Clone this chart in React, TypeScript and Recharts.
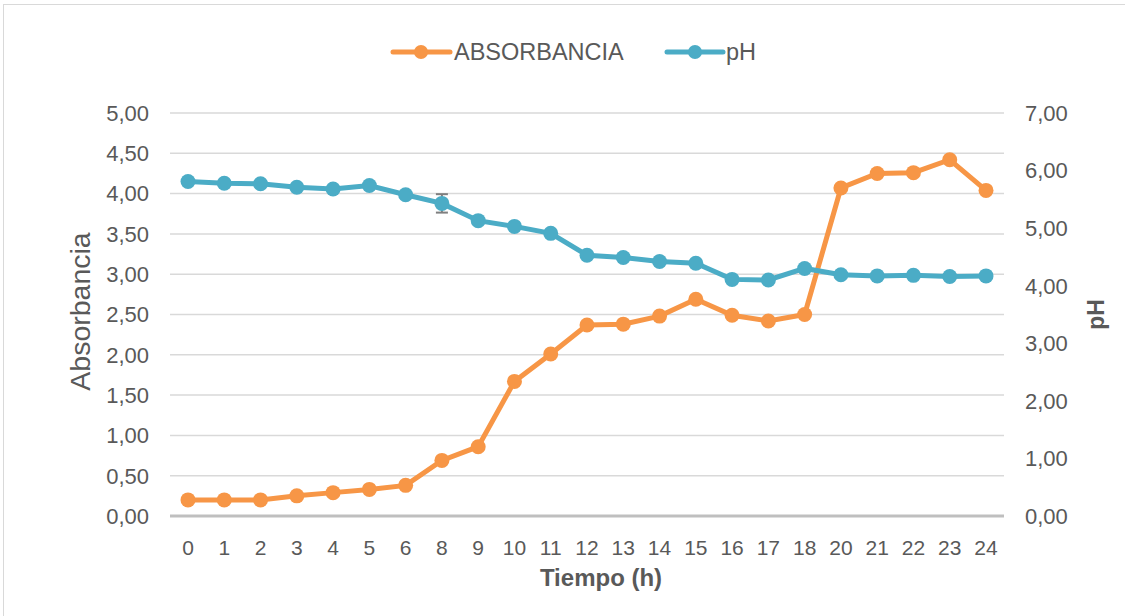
import React from 'react';
import { ComposedChart, Line, XAxis, YAxis, CartesianGrid, Legend, ErrorBar, Label } from 'recharts';

if (typeof document !== 'undefined') {
  document.body.style.margin = '0';
}

const categories = ['0', '1', '2', '3', '4', '5', '6', '8', '9', '10', '11', '12', '13', '14', '15', '16', '17', '18', '20', '21', '22', '23', '24'];
const absorbancia = [0.2, 0.2, 0.2, 0.25, 0.29, 0.33, 0.38, 0.69, 0.86, 1.67, 2.01, 2.37, 2.38, 2.48, 2.69, 2.49, 2.42, 2.5, 4.07, 4.25, 4.26, 4.42, 4.04];
const ph = [5.81, 5.78, 5.77, 5.71, 5.68, 5.74, 5.58, 5.43, 5.13, 5.03, 4.91, 4.53, 4.49, 4.42, 4.39, 4.11, 4.1, 4.3, 4.19, 4.17, 4.18, 4.16, 4.17];
const phError = [null, null, null, null, null, null, null, 0.16, null, null, null, null, null, null, null, null, null, null, null, null, null, null, null];
const leftTicks = [0, 0.5, 1, 1.5, 2, 2.5, 3, 3.5, 4, 4.5, 5];
const rightTicks = [0, 1, 2, 3, 4, 5, 6, 7];

const data = categories.map((t, i) => ({ t, abs: absorbancia[i], ph: ph[i], phErr: phError[i] }));

const ORANGE = '#F79646';
const BLUE = '#4BACC6';
const TEXT = '#595959';
const FONT = '"Liberation Sans", Arial, sans-serif';

const fmt = (v: number) => v.toFixed(2).replace('.', ',');

const LegendContent = () => (
  <svg width={1125} height={30} style={{ display: 'block' }}>
    <g>
      <line x1={393} x2={450} y1={15} y2={15} stroke={ORANGE} strokeWidth={5} strokeLinecap="round" />
      <circle cx={421} cy={15} r={7} fill={ORANGE} />
      <text x={454} y={15} dy="0.36em" fontSize={23.5} fill={TEXT} fontFamily={FONT}>ABSORBANCIA</text>
      <line x1={667} x2={723} y1={15} y2={15} stroke={BLUE} strokeWidth={5} strokeLinecap="round" />
      <circle cx={695} cy={15} r={7} fill={BLUE} />
      <text x={726} y={15} dy="0.36em" fontSize={23.5} fill={TEXT} fontFamily={FONT}>pH</text>
    </g>
  </svg>
);

export default function App() {
  return (
    <div style={{ position: 'relative', width: 1125, height: 616, background: '#fff', overflow: 'hidden' }}>
      <div style={{ position: 'absolute', left: 3, top: 4, width: 1130, height: 620, border: '1.5px solid #d9d9d9', boxSizing: 'border-box' }} />
      <ComposedChart
        width={1125}
        height={616}
        data={data}
        margin={{ top: 83, right: 0, bottom: 30, left: 0 }}
        style={{ fontFamily: FONT }}
      >
        <CartesianGrid yAxisId="left" vertical={false} stroke="#d9d9d9" strokeWidth={1.5} />
        <XAxis
          dataKey="t"
          interval={0}
          height={70}
          padding={{ left: 18, right: 18 }}
          axisLine={{ stroke: '#bfbfbf', strokeWidth: 3 }}
          tickLine={false}
          tickSize={0}
          tickMargin={24}
          tick={{ fill: TEXT, fontSize: 21, fontFamily: FONT }}
        >
          <Label value="Tiempo (h)" position="insideBottom" offset={0} dx={14} fill={TEXT} fontSize={24} fontWeight="bold" fontFamily={FONT} />
        </XAxis>
        <YAxis
          yAxisId="left"
          width={170}
          domain={[0, 5]}
          ticks={leftTicks}
          tickFormatter={fmt}
          axisLine={false}
          tickLine={false}
          tickSize={0}
          tickMargin={21}
          tick={{ fill: TEXT, fontSize: 22, fontFamily: FONT }}
        >
          <Label value="Absorbancia" position="center" angle={-90} dx={-5} dy={-3} fill={TEXT} fontSize={28.5} fontFamily={FONT} />
        </YAxis>
        <YAxis
          yAxisId="right"
          orientation="right"
          width={121}
          domain={[0, 7]}
          ticks={rightTicks}
          tickFormatter={fmt}
          axisLine={false}
          tickLine={false}
          tickSize={0}
          tickMargin={21}
          tick={{ fill: TEXT, fontSize: 22, fontFamily: FONT }}
        >
          <Label value="pH" position="center" angle={-90} dx={31} fill={TEXT} fontSize={23} fontWeight="bold" fontFamily={FONT} />
        </YAxis>
        <Legend
          verticalAlign="top"
          content={() => <LegendContent />}
          wrapperStyle={{ position: 'absolute', top: 37, left: 0, width: 1125 }}
        />
        <Line
          yAxisId="left"
          type="linear"
          dataKey="abs"
          name="ABSORBANCIA"
          stroke={ORANGE}
          strokeWidth={5}
          dot={{ r: 7.5, fill: ORANGE, stroke: 'none' }}
          activeDot={false}
          isAnimationActive={false}
        />
        <Line
          yAxisId="right"
          type="linear"
          dataKey="ph"
          name="pH"
          stroke={BLUE}
          strokeWidth={5}
          dot={{ r: 7.5, fill: BLUE, stroke: 'none' }}
          activeDot={false}
          isAnimationActive={false}
        >
          <ErrorBar dataKey="phErr" direction="y" width={6} stroke="#7f7f7f" strokeWidth={2} isAnimationActive={false} />
        </Line>
      </ComposedChart>
    </div>
  );
}
